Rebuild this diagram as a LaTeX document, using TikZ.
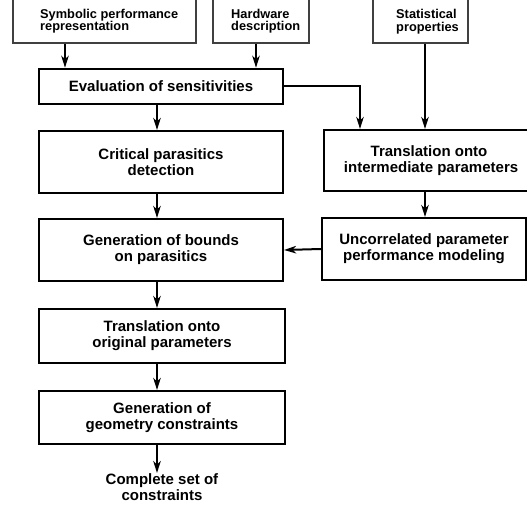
\documentclass[tikz,border=0pt]{standalone}
\usepackage{fontspec}
\setmainfont{Liberation Sans}
\usetikzlibrary{arrows.meta}
\begin{document}
\begin{tikzpicture}[x=1pt,y=1pt,
  box/.style={draw=black, line width=2.1pt, inner sep=0pt, align=center,
    font=\fontsize{15}{16}\selectfont\bfseries},
  inbox/.style={draw=black!75, line width=1.3pt, inner sep=0pt},
  intext/.style={inner sep=0pt, align=left, anchor=north west,
    font=\fontsize{12.8}{12.5}\selectfont\bfseries},
  arr/.style={line width=2pt, -{Stealth[length=12pt,width=7.5pt,inset=3.5pt]}}]
\useasboundingbox (0,0) rectangle (527,-510);
\begin{scope}
\clip (0,0) rectangle (527,-510);
% input boxes
\node[inbox, minimum width=183pt, minimum height=55pt] (sym) at (104.5,-15.5) {};
\node[inbox, minimum width=96pt, minimum height=55pt] (hw) at (261,-15.5) {};
\node[inbox, minimum width=95pt, minimum height=55pt] (st) at (420.5,-15.5) {};
\node[intext] (symt) at (40,-9) {Symbolic performance\\representation};
\node[intext] (hwt) at (231,-9) {Hardware\\description};
\node[intext] (stt) at (396,-9.5) {Statistical\\properties};
% main boxes
\node[box, line width=2.6pt, minimum width=244pt, minimum height=35pt] (eval) at (161,-86.5) {Evaluation of sensitivities};
\node[box, minimum width=244pt, minimum height=62pt] (crit) at (161,-162) {Critical parasitics\\detection};
\node[box, minimum width=244pt, minimum height=62pt] (bounds) at (161,-250) {Generation of bounds\\on parasitics};
\node[box, minimum width=246pt, minimum height=54pt] (orig) at (162,-336) {Translation onto\\original parameters};
\node[box, minimum width=246pt, minimum height=53pt] (geom) at (162,-417.5) {Generation of\\geometry constraints};
\node[box, minimum width=210pt, minimum height=61pt] (inter) at (429,-160.5) {Translation onto\\\phantom{i}intermediate parameters};
\node[box, minimum width=204pt, minimum height=62pt] (unc) at (424,-249) {Uncorrelated parameter\\performance modeling};
\node[inner sep=0pt, align=center, anchor=north, font=\fontsize{15}{16}\selectfont\bfseries] (comp) at (162,-473) {Complete set of\\constraints};
% connectors
\draw[arr] (sym.south -| 65,0) -- (eval.north -| 65,0);
\draw[arr] (hw.south -| 256,0) -- (eval.north -| 256,0);
\draw[arr] (st.south -| 425,0) -- (inter.north -| 425,0);
\draw[arr] (eval.east) -| (inter.north -| 360,0);
\draw[arr] (eval.south -| 157,0) -- (crit.north -| 157,0);
\draw[arr] (crit.south -| 157,0) -- (bounds.north -| 157,0);
\draw[arr] (bounds.south -| 157,0) -- (orig.north -| 157,0);
\draw[arr] (orig.south -| 157,0) -- (geom.north -| 157,0);
\draw[arr] (geom.south -| 157,0) -- (comp.north -| 157,0);
\draw[arr] (inter.south -| 425,0) -- (unc.north -| 425,0);
\draw[arr] (unc.west) -- (bounds.east);
\end{scope}
\end{tikzpicture}
\end{document}
